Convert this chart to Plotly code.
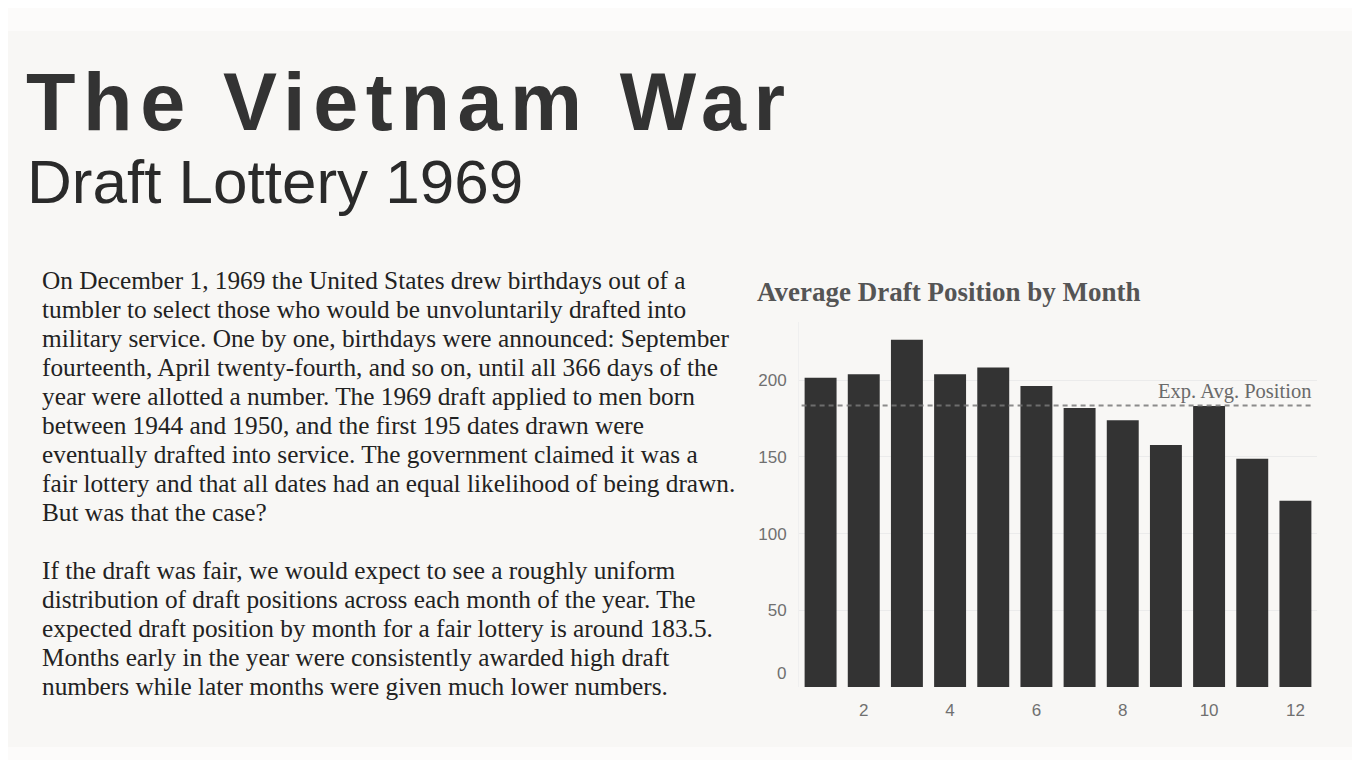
import plotly.graph_objects as go

# the page keeps its default 8px body margin, so the figure is made
# 16px smaller than the window and positions are read in window pixels
PAGE_W, PAGE_H = 1360, 768
OFFSET = 8
W, H = PAGE_W - 2 * OFFSET, PAGE_H - 2 * OFFSET

MONTHS = list(range(1, 13))
AVG_POSITION = [201.7, 204.0, 226.5, 204.0, 208.3, 196.2, 182.0, 174.0, 157.8, 183.2, 148.8, 121.5]
EXPECTED_AVG = 183.5
X_TICKS = [2, 4, 6, 8, 10, 12]
Y_TICKS = [0, 50, 100, 150, 200]
Y_TICK_TEXT = ["", "50", "100", "150", "200"]  # the 0 label sits above the baseline

TITLE = "The Vietnam War"
SUBTITLE = "Draft Lottery 1969"
CHART_TITLE = "Average Draft Position by Month"
LINE_LABEL = "Exp. Avg. Position"
BODY_LINES = [
    "On December 1, 1969 the United States drew birthdays out of a",
    "tumbler to select those who would be unvoluntarily drafted into",
    "military service. One by one, birthdays were announced: September",
    "fourteenth, April twenty-fourth, and so on, until all 366 days of the",
    "year were allotted a number. The 1969 draft applied to men born",
    "between 1944 and 1950, and the first 195 dates drawn were",
    "eventually drafted into service. The government claimed it was a",
    "fair lottery and that all dates had an equal likelihood of being drawn.",
    "But was that the case?",
    "",
    "If the draft was fair, we would expect to see a roughly uniform",
    "distribution of draft positions across each month of the year. The",
    "expected draft position by month for a fair lottery is around 183.5.",
    "Months early in the year were consistently awarded high draft",
    "numbers while later months were given much lower numbers.",
]

SANS = "Liberation Sans, Arial, sans-serif"
SERIF = "Liberation Serif, Times New Roman, serif"
BG = "#fcfbfa"
TICK_FONT = dict(family=SANS, size=17, color="#707070")


def px_x(x):
    return (x - OFFSET) / W


def px_y(y):
    return 1 - (y - OFFSET) / H


fig = go.Figure()

fig.add_trace(
    go.Bar(
        x=MONTHS,
        y=AVG_POSITION,
        marker=dict(color="#333333", line=dict(width=0)),
        hoverinfo="x+y",
    )
)

# expected average (dashed reference line across the plot)
fig.add_shape(
    type="line",
    xref="x domain", yref="y",
    x0=0.005, x1=0.995, y0=EXPECTED_AVG, y1=EXPECTED_AVG,
    line=dict(color="rgba(120,120,120,0.85)", width=2, dash="5px,4px"),
    layer="above",
)

# faint panel behind everything
fig.add_shape(
    type="rect", xref="paper", yref="paper",
    x0=0, x1=px_x(1354), y0=px_y(747), y1=px_y(31),
    fillcolor="#f8f7f5", line=dict(width=0), layer="below",
)

annotations = [
    dict(
        text=f'<span style="letter-spacing:7.6px">{TITLE}</span>',
        x=px_x(24), y=px_y(102), xanchor="left", yanchor="middle",
        font=dict(family=SANS, size=81, color="#333333", weight="bold"),
    ),
    dict(
        text=SUBTITLE,
        x=px_x(25), y=px_y(181), xanchor="left", yanchor="middle",
        font=dict(family=SANS, size=62, color="#2a2a2a"),
    ),
    dict(
        text=f"<b>{CHART_TITLE}</b>",
        x=px_x(755), y=px_y(292), xanchor="left", yanchor="middle",
        font=dict(family=SERIF, size=27, color="#555555"),
    ),
]

for i, line in enumerate(BODY_LINES):
    if not line:
        continue
    annotations.append(
        dict(
            text=line,
            x=px_x(40), y=px_y(280 + 29 * i), xanchor="left", yanchor="middle",
            font=dict(family=SERIF, size=25.3, color="#222222"),
        )
    )

for a in annotations:
    a.update(xref="paper", yref="paper", showarrow=False)

annotations.append(
    dict(
        text=LINE_LABEL,
        xref="paper", yref="y",
        x=px_x(1313), y=EXPECTED_AVG, xanchor="right", yanchor="bottom",
        yshift=1, showarrow=False,
        font=dict(family=SERIF, size=20.5, color="#6a6a6a"),
    )
)
annotations.append(
    dict(
        text=str(Y_TICKS[0]),
        xref="paper", yref="y",
        x=px_x(788), y=Y_TICKS[0], xanchor="right", yanchor="middle",
        yshift=14, showarrow=False,
        font=TICK_FONT,
    )
)

fig.update_layout(
    width=W,
    height=H,
    margin=dict(l=0, r=0, t=0, b=0),
    paper_bgcolor=BG,
    plot_bgcolor="rgba(0,0,0,0)",
    showlegend=False,
    bargap=0.26,
    annotations=annotations,
)

fig.update_xaxes(
    domain=[px_x(799), px_x(1317)],
    range=[0.5, 12.5],
    tickvals=X_TICKS,
    showgrid=False,
    zeroline=False,
    ticks="outside",
    ticklen=8,
    tickcolor="rgba(0,0,0,0)",
    tickfont=TICK_FONT,
)
fig.update_yaxes(
    domain=[px_y(687), px_y(322)],
    range=[0, 238],
    tickvals=Y_TICKS,
    ticktext=Y_TICK_TEXT,
    showgrid=True,
    gridcolor="#ebebeb",
    gridwidth=1,
    zeroline=False,
    showline=True,
    linecolor="#efefef",
    ticks="outside",
    ticklen=8,
    tickcolor="rgba(0,0,0,0)",
    tickfont=TICK_FONT,
)

fig.write_html("out.html", config={"displayModeBar": False})
